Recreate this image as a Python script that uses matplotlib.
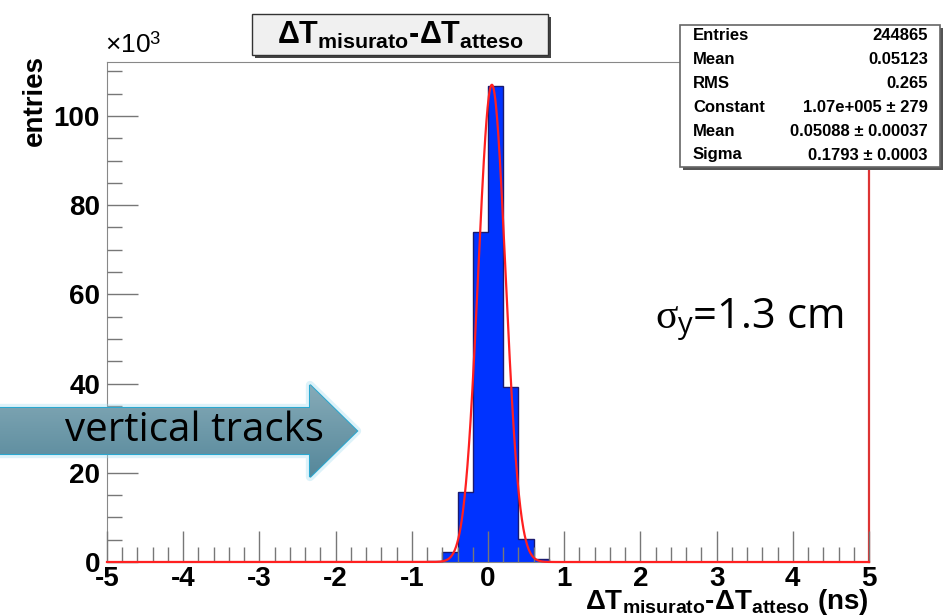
import numpy as np
import matplotlib
matplotlib.use('Agg')
import matplotlib.pyplot as plt
from matplotlib.patches import Polygon, Rectangle
from matplotlib.ticker import MultipleLocator

plt.rcParams['font.family'] = ['Liberation Sans', 'DejaVu Sans']
plt.rcParams['axes.unicode_minus'] = False
plt.rcParams['mathtext.fontset'] = 'custom'
plt.rcParams['mathtext.rm'] = 'Liberation Sans'
plt.rcParams['mathtext.bf'] = 'Liberation Sans:bold'
plt.rcParams['mathtext.it'] = 'Liberation Serif'
plt.rcParams['mathtext.sf'] = 'Open Sans'

# histogram bins (ns) and counts
bin_left = [-0.8, -0.6, -0.4, -0.2, 0.0, 0.2, 0.4, 0.6]
counts = [300, 2200, 15700, 74000, 106700, 39200, 5200, 700]
bin_width = 0.2

# gaussian fit parameters (from the stats box)
fit_const = 1.07e5
fit_mean = 0.05088
fit_sigma = 0.1793

stats_names = ['Entries', 'Mean', 'RMS', 'Constant', 'Mean', 'Sigma']
stats_values = ['244865', '0.05123', '0.265', '1.07e+005 ± 279',
                '0.05088 ± 0.00037', '0.1793 ± 0.0003']

W, H = 943, 616
fig = plt.figure(figsize=(W / 100, H / 100), dpi=100)
ax = fig.add_axes([107 / W, 54 / H, 762 / W, 500 / H])

heights = np.array(counts) / 1000
ax.bar(bin_left, heights, width=bin_width, align='edge',
       color='#0033ff', edgecolor='none', zorder=2)
edges = list(bin_left) + [bin_left[-1] + bin_width]
ax.stairs(heights, edges, color='#1a1a70', lw=1, zorder=2.2)

xf = np.linspace(-5, 5, 2001)
yf = fit_const * np.exp(-0.5 * ((xf - fit_mean) / fit_sigma) ** 2)
ax.plot(xf, yf / 1000, color='#ff2020', lw=1.6, zorder=3, clip_on=False)

ax.set_xlim(-5, 5)
ax.set_ylim(0, 112.1)
ax.set_xticks(range(-5, 6))
ax.set_yticks(range(0, 101, 20))
ax.xaxis.set_minor_locator(MultipleLocator(0.2))
ax.yaxis.set_minor_locator(MultipleLocator(5))
ax.set_axisbelow(False)
ax.tick_params(which='both', direction='in', color='#777777', width=1,
               labelsize=20, top=False, right=False)
ax.tick_params(which='major', length=22)
ax.tick_params(which='minor', length=11)
ax.tick_params(axis='x', pad=3)
ax.tick_params(axis='y', pad=5)
for lbl in ax.get_xticklabels() + ax.get_yticklabels():
    lbl.set_fontweight('bold')
for s in ['left', 'top', 'bottom']:
    ax.spines[s].set_color('#888888')
ax.spines['right'].set_color('#dd3333')
ax.spines['right'].set_linewidth(1.6)

# overlay in pixel coordinates for annotations
ov = fig.add_axes([0, 0, 1, 1], zorder=10)
ov.set_xlim(0, W)
ov.set_ylim(H, 0)
ov.axis('off')

# title box
ov.add_patch(Rectangle((255, 17), 296, 41, facecolor='#444444', edgecolor='none'))
ov.add_patch(Rectangle((252, 14), 296, 41, facecolor='#f0f0f0', edgecolor='#333333', lw=1))
ov.text(400, 35, r'$\mathbf{\Delta T_{misurato}}$-$\mathbf{\Delta T_{atteso}}$',
        ha='center', va='center', fontsize=22, fontweight='bold')

# stats box
ov.add_patch(Rectangle((683, 28), 260, 142, facecolor='#555555', edgecolor='none'))
ov.add_patch(Rectangle((680, 25), 260, 142, facecolor='white', edgecolor='#666666', lw=1.2))
for i, (name, val) in enumerate(zip(stats_names, stats_values)):
    y = 36 + i * 23.8
    ov.text(693, y, name, ha='left', va='center', fontsize=12, fontweight='bold')
    ov.text(928, y, val, ha='right', va='center', fontsize=12, fontweight='bold')

# axis labels
ov.text(105, 45, r'$\times$10$^{3}$', ha='left', va='center', fontsize=19)
ov.text(35, 100, 'entries', rotation=90, ha='center', va='center',
        fontsize=20, fontweight='bold')
ov.text(869, 602, r'$\mathbf{\Delta T_{misurato}}$-$\mathbf{\Delta T_{atteso}}$ (ns)',
        ha='right', va='center', fontsize=20, fontweight='bold')

# sigma annotation
ov.text(655, 320, r'$\sigma_{\mathsf{y}}$=1.3 cm', ha='left', va='center',
        fontsize=30, family=['Open Sans', 'DejaVu Sans'])

# block arrow with gradient
arrow_pts = [(0, 408), (310, 408), (310, 385), (357, 431), (310, 477),
             (310, 454), (0, 454)]
glow = Polygon(arrow_pts, closed=True, facecolor='none', edgecolor='#9fdcf0',
               lw=6, alpha=0.35, joinstyle='round')
ov.add_patch(glow)
arrow = Polygon(arrow_pts, closed=True, facecolor='none', edgecolor='#2aa8d0',
                lw=1.5)
ov.add_patch(arrow)
grad = np.linspace(0, 1, 100).reshape(-1, 1)
img = ov.imshow(grad, extent=(0, 358, 478, 384), aspect='auto',
                cmap=matplotlib.colors.LinearSegmentedColormap.from_list(
                    'arr', ['#86abb8', '#55879a']), zorder=1)
img.set_clip_path(arrow)
ov.set_xlim(0, W)
ov.set_ylim(H, 0)
ov.text(65, 431, 'vertical tracks', ha='left', va='center', fontsize=29,
        family=['Open Sans', 'DejaVu Sans'], zorder=3)

fig.savefig('out.png', dpi=100)
